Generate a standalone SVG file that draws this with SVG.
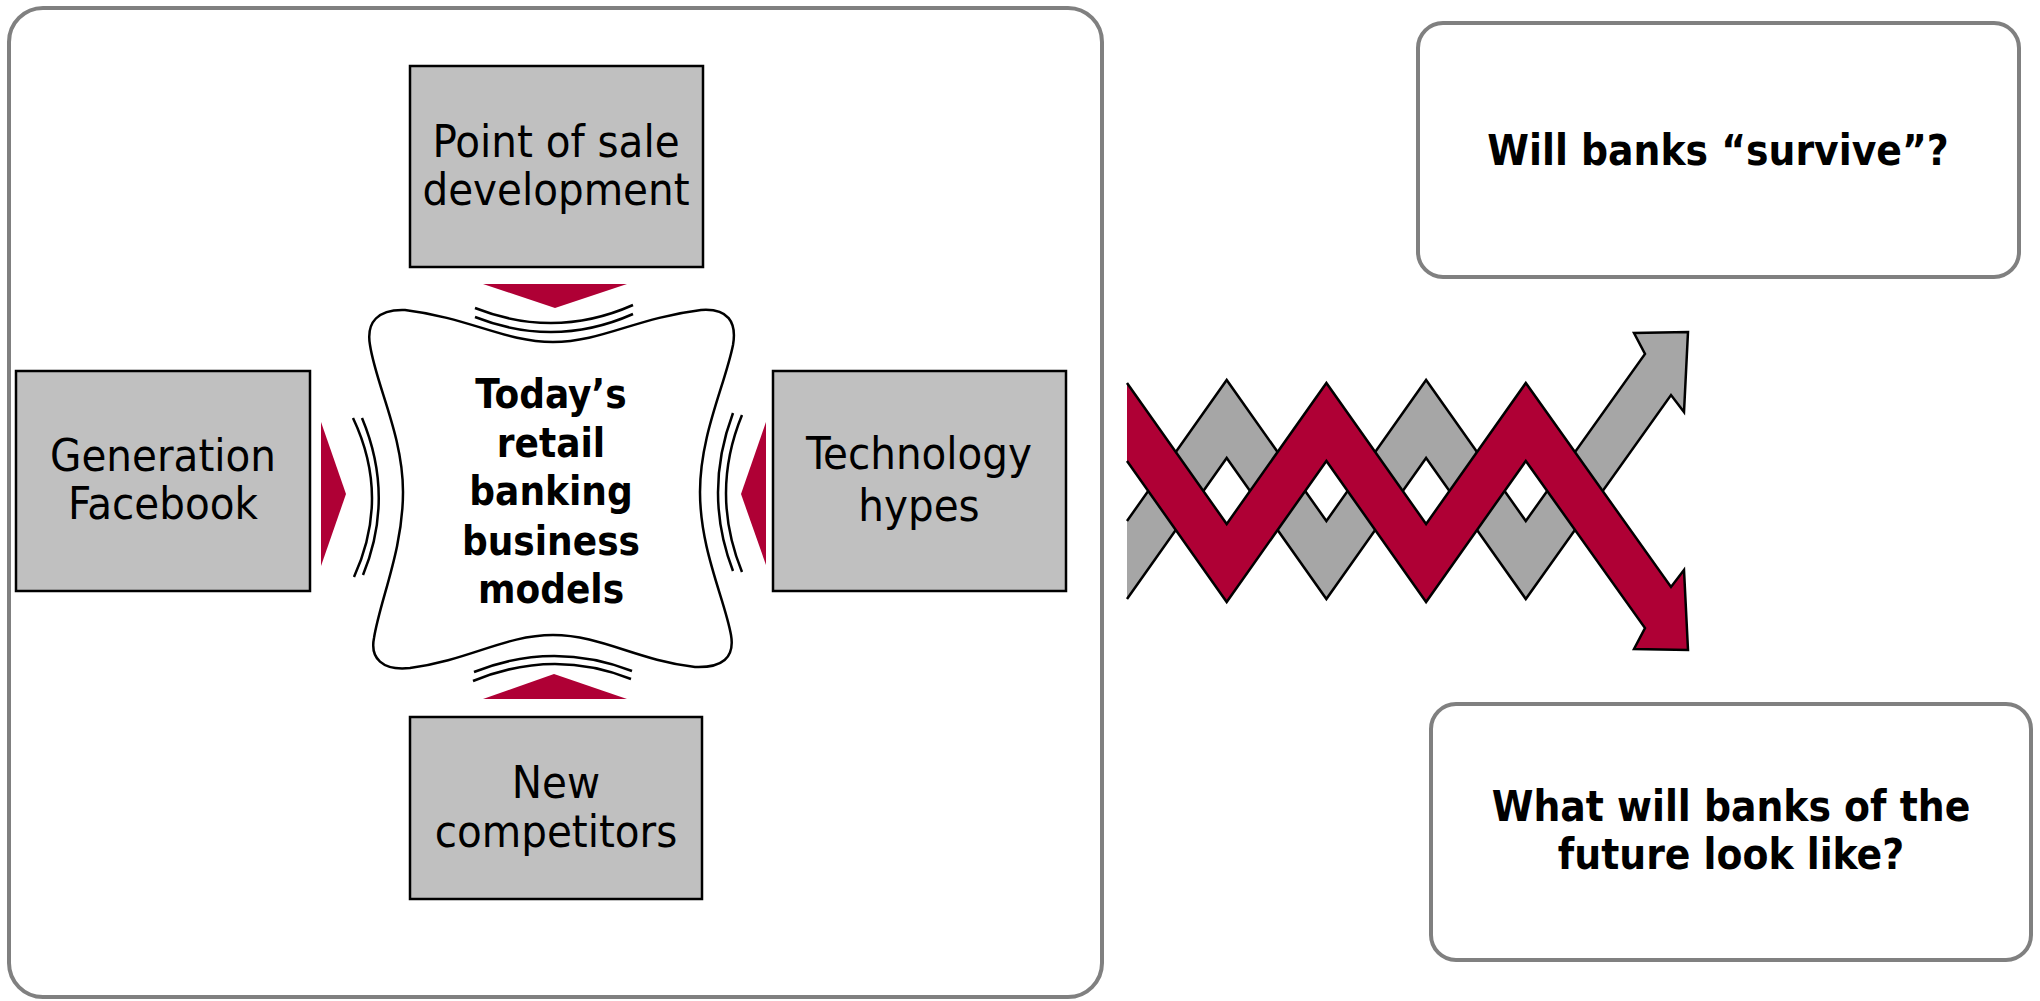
<svg xmlns="http://www.w3.org/2000/svg" width="2040" height="1001" viewBox="0 0 2040 1001">
  <style>
    .frame { fill: #ffffff; stroke: #808080; stroke-width: 4; }
    .box { fill: #c0c0c0; stroke: #000000; stroke-width: 2.5; }
    .push { fill: #af0035; stroke: none; }
    .arc { fill: none; stroke: #000000; stroke-width: 2.5; }
    .label { font-family: "DejaVu Sans Condensed", "DejaVu Sans", sans-serif; font-stretch: condensed; font-size: 45px; fill: #000000; text-anchor: middle; }
    .core { font-family: "DejaVu Sans Condensed", "DejaVu Sans", sans-serif; font-stretch: condensed; font-size: 40px; font-weight: bold; fill: #000000; text-anchor: middle; }
    .question { font-family: "DejaVu Sans Condensed", "DejaVu Sans", sans-serif; font-stretch: condensed; font-size: 42px; font-weight: bold; fill: #000000; text-anchor: middle; }
    .band-fill { stroke: none; }
    .band-edge { fill: none; stroke: #000000; stroke-width: 2.5; stroke-linejoin: miter; }
  </style>
  <defs>
    <!-- zigzag band with arrowhead; reused mirrored for the second band -->
    <path id="zigzag-fill" d="M1127 383 L1226.7 524 L1326.4 383 L1426.1 524 L1525.8 383 L1671 587 L1684 570 L1688 650 L1634 649 L1645 628 L1525.8 461 L1426.1 602 L1326.4 461 L1226.7 602 L1127 461 Z"/>
    <path id="zigzag-edge" d="M1127 383 L1226.7 524 L1326.4 383 L1426.1 524 L1525.8 383 L1671 587 L1684 570 L1688 650 L1634 649 L1645 628 L1525.8 461 L1426.1 602 L1326.4 461 L1226.7 602 L1127 461"/>
  </defs>

  <!-- left panel frame -->
  <rect id="panel" class="frame" x="9" y="8" width="1093" height="989" rx="34" ry="34"/>

  <!-- central business model -->
  <g id="core">
    <path fill="#ffffff" stroke="#000000" stroke-width="2.5" d="M405 310 C470 318 505 342 553 342 C601 342 636 318 701 310 C728 308 737 322 733 345 C725 385 700 435 700 492 C700 550 725 600 731 635 C735 658 722 668 695 667 C636 660 601 635 553 635 C505 635 470 660 410 668 C382 671 370 658 374 638 C380 600 403 550 403 492 C403 435 376 385 370 345 C366 322 378 309 405 310 Z"/>
    <text class="core" x="551" y="408">Today’s</text>
    <text class="core" x="551" y="457">retail</text>
    <text class="core" x="551" y="505">banking</text>
    <text class="core" x="551" y="555">business</text>
    <text class="core" x="551" y="603">models</text>
  </g>

  <g id="pos">
    <rect class="box" x="410" y="66" width="293" height="201"/>
    <text class="label" x="556" y="157">Point of sale</text>
    <text class="label" x="556" y="205">development</text>
  </g>

  <g id="generation">
    <rect class="box" x="16" y="371" width="294" height="220"/>
    <text class="label" x="163" y="471">Generation</text>
    <text class="label" x="163" y="519">Facebook</text>
  </g>

  <g id="technology">
    <rect class="box" x="773" y="371" width="293" height="220"/>
    <text class="label" x="919" y="469">Technology</text>
    <text class="label" x="919" y="521">hypes</text>
  </g>

  <g id="competitors">
    <rect class="box" x="410" y="717" width="292" height="182"/>
    <text class="label" x="556" y="798">New</text>
    <text class="label" x="556" y="847">competitors</text>
  </g>

  <!-- pressure arrows and ripples -->
  <g id="connectors">
    <polygon class="push" points="483,284 627,284 555,308"/>
    <path class="arc" d="M475 308 Q555 339.5 633 305"/>
    <path class="arc" d="M475 317 Q555 348.5 633 314"/>

    <polygon class="push" points="483,699 627,699 554,674"/>
    <path class="arc" d="M474 672 Q553 640.5 632 671"/>
    <path class="arc" d="M473 681 Q553 648 631 679"/>

    <polygon class="push" points="321,422 321,566 346,494"/>
    <path class="arc" d="M353 418 Q390.5 497 354 577"/>
    <path class="arc" d="M362 418 Q395 497 363 575"/>

    <polygon class="push" points="766,422 766,565 741,494"/>
    <path class="arc" d="M733 413 Q703 493 733 571"/>
    <path class="arc" d="M742 415 Q710 493 742 572"/>
  </g>

  <!-- intertwined trend arrows -->
  <g id="trend">
    <g transform="translate(0 982) scale(1 -1)">
      <use href="#zigzag-fill" class="band-fill" fill="#a6a6a6"/>
      <use href="#zigzag-edge" class="band-edge"/>
    </g>
    <use href="#zigzag-fill" class="band-fill" fill="#af0035"/>
    <use href="#zigzag-edge" class="band-edge"/>
  </g>

  <g id="survive">
    <rect class="frame" x="1418" y="23" width="601" height="254" rx="25" ry="25"/>
    <text class="question" x="1718" y="165">Will banks “survive”?</text>
  </g>

  <g id="future">
    <rect class="frame" x="1431" y="704" width="600" height="256" rx="25" ry="25"/>
    <text class="question" x="1731" y="821">What will banks of the</text>
    <text class="question" x="1731" y="869">future look like?</text>
  </g>
</svg>
